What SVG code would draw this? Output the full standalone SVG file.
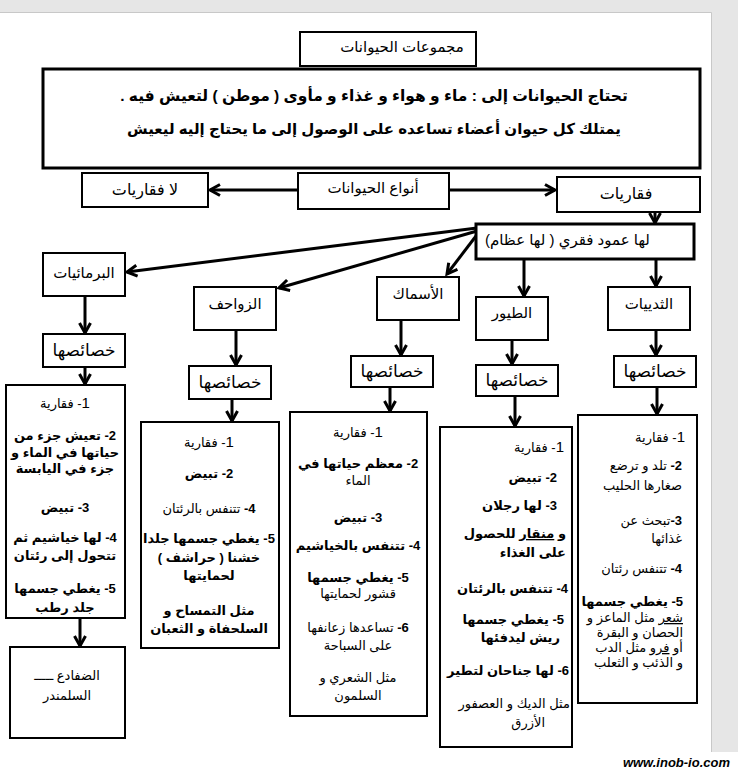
<svg xmlns="http://www.w3.org/2000/svg" width="738" height="770" viewBox="0 0 738 770">
<style>
.bx{fill:#fff;stroke:#000;stroke-width:2}
.bk{stroke-width:3}
.t{font-family:"Liberation Sans","DejaVu Sans",sans-serif;font-size:13px;fill:#000;direction:rtl}
.m{text-anchor:middle}
.r{text-anchor:start}
.l{text-anchor:end}
.b{font-weight:bold}
.n{font-size:15px;font-weight:normal}
.h{font-size:15px}
.g{font-size:16px}
.k{font-size:17px}
.u{text-decoration:underline}
.cn{stroke:#000;stroke-width:3;fill:none}
</style>
<defs>
<marker id="ah" markerUnits="userSpaceOnUse" markerWidth="16" markerHeight="16" refX="12" refY="7" orient="auto" viewBox="0 0 16 16">
<path d="M2,1.5 L12,7 L2,12.5" fill="none" stroke="#000" stroke-width="3"/>
</marker>
</defs>
<rect x="0" y="0" width="738" height="770" fill="#fff"/>
<rect x="0" y="0" width="738" height="12" fill="#e6e6e6"/>
<rect x="711" y="0" width="27" height="752" fill="#e6e6e6"/>
<path d="M0,12.5 H711.5 V752" fill="none" stroke="#c8c8c8" stroke-width="1"/>

<g id="connectors">
<line class="cn" x1="298" y1="190" x2="210" y2="190" marker-end="url(#ah)"/>
<line class="cn" x1="449" y1="190" x2="555" y2="190" marker-end="url(#ah)"/>
<line class="cn" x1="655" y1="212" x2="655" y2="223" marker-end="url(#ah)"/>
<line class="cn" x1="477" y1="228" x2="127" y2="272" marker-end="url(#ah)"/>
<line class="cn" x1="477" y1="231" x2="279" y2="288" marker-end="url(#ah)"/>
<line class="cn" x1="476" y1="236" x2="447" y2="274" marker-end="url(#ah)"/>
<line class="cn" x1="524" y1="259" x2="524" y2="296" marker-end="url(#ah)"/>
<line class="cn" x1="656" y1="259" x2="656" y2="286" marker-end="url(#ah)"/>
<line class="cn" x1="85" y1="296" x2="85" y2="333" marker-end="url(#ah)"/>
<line class="cn" x1="85" y1="367" x2="85" y2="384" marker-end="url(#ah)"/>
<line class="cn" x1="236" y1="330" x2="236" y2="365" marker-end="url(#ah)"/>
<line class="cn" x1="232" y1="399" x2="232" y2="421" marker-end="url(#ah)"/>
<line class="cn" x1="401" y1="320" x2="401" y2="355" marker-end="url(#ah)"/>
<line class="cn" x1="390" y1="387" x2="390" y2="411" marker-end="url(#ah)"/>
<line class="cn" x1="512" y1="340" x2="512" y2="364" marker-end="url(#ah)"/>
<line class="cn" x1="515" y1="396" x2="515" y2="426" marker-end="url(#ah)"/>
<line class="cn" x1="656" y1="330" x2="656" y2="355" marker-end="url(#ah)"/>
<line class="cn" x1="657" y1="387" x2="657" y2="414" marker-end="url(#ah)"/>
<line class="cn" x1="80" y1="618" x2="80" y2="646" marker-end="url(#ah)"/>
</g>

<g id="title">
<rect class="bx" x="300" y="32" width="176" height="34" stroke-width="1.5"/>
<text class="t m h" x="402" y="52">مجموعات الحيوانات</text>
</g>

<g id="intro">
<rect class="bx bk" x="43" y="69" width="657" height="99"/>
<text class="t m b" x="374" y="101" style="font-size:15.5px">تحتاج الحيوانات إلى : ماء و هواء و غذاء و مأوى ( موطن ) لتعيش فيه .</text>
<text class="t m b h" x="374" y="134">يمتلك كل حيوان أعضاء تساعده على الوصول إلى ما يحتاج إليه ليعيش</text>
</g>

<g id="invertebrates">
<rect class="bx" x="82" y="173" width="126" height="34"/>
<text class="t m g" x="145" y="195">لا فقاريات</text>
</g>

<g id="animal-types">
<rect class="bx" x="298" y="173" width="151" height="36"/>
<text class="t m h" x="373" y="193">أنواع الحيوانات</text>
</g>

<g id="vertebrates">
<rect class="bx" x="557" y="177" width="143" height="35"/>
<text class="t m g" x="626" y="199">فقاريات</text>
</g>

<g id="backbone">
<rect class="bx bk" x="476" y="224" width="218" height="35"/>
<text class="t l h" x="485" y="245">لها عمود فقري ( لها عظام)</text>
</g>

<g id="amphibians">
<rect class="bx" x="43" y="253" width="82" height="43"/>
<text class="t m h" x="84" y="278">البرمائيات</text>
</g>
<g id="reptiles">
<rect class="bx" x="194" y="287" width="82" height="43"/>
<text class="t m h" x="235" y="309">الزواحف</text>
</g>
<g id="fish">
<rect class="bx" x="377" y="277" width="82" height="43"/>
<text class="t m h" x="418" y="299">الأسماك</text>
</g>
<g id="birds">
<rect class="bx" x="476" y="297" width="72" height="43"/>
<text class="t m h" x="512" y="318">الطيور</text>
</g>
<g id="mammals">
<rect class="bx" x="608" y="287" width="82" height="43"/>
<text class="t m h" x="649" y="309">الثدييات</text>
</g>

<g id="amphibians-props">
<rect class="bx" x="43" y="334" width="82" height="33"/>
<text class="t m k" x="84" y="356">خصائصها</text>
</g>
<g id="reptiles-props">
<rect class="bx" x="189" y="366" width="82" height="33"/>
<text class="t m k" x="230" y="388">خصائصها</text>
</g>
<g id="fish-props">
<rect class="bx" x="351" y="356" width="82" height="31"/>
<text class="t m k" x="392" y="377">خصائصها</text>
</g>
<g id="birds-props">
<rect class="bx" x="476" y="365" width="82" height="31"/>
<text class="t m k" x="517" y="386">خصائصها</text>
</g>
<g id="mammals-props">
<rect class="bx" x="614" y="356" width="82" height="31"/>
<text class="t m k" x="655" y="377">خصائصها</text>
</g>

<g id="amphibians-list">
<rect class="bx" x="6" y="385" width="119" height="233"/>
<text class="t m" x="65" y="408"><tspan class="n">1</tspan>- فقارية</text>
<text class="t m b" x="65" y="440">2- تعيش جزء من</text>
<text class="t m b" x="65" y="457">حياتها في الماء و</text>
<text class="t m b" x="65" y="473">جزء في اليابسة</text>
<text class="t m b" x="65" y="512">3- تبيض</text>
<text class="t m b" x="65" y="542">4-  لها خياشيم ثم</text>
<text class="t m b" x="65" y="560">تتحول إلى رئتان</text>
<text class="t m b" x="65" y="593">5- يغطي جسمها</text>
<text class="t m b" x="65" y="612">جلد رطب</text>
</g>

<g id="amphibians-examples">
<rect class="bx" x="10" y="647" width="115" height="91"/>
<text class="t m" x="67" y="680">الضفادع ـــــ</text>
<text class="t m" x="67" y="700">السلمندر</text>
</g>

<g id="reptiles-list">
<rect class="bx" x="141" y="422" width="138" height="226"/>
<text class="t m" x="209" y="447"><tspan class="n">1</tspan>- فقارية</text>
<text class="t m b" x="209" y="478">2- تبيض</text>
<text class="t m" x="209" y="513"><tspan class="b">4-</tspan>  تتنفس بالرئتان</text>
<text class="t m b" x="209" y="543">5- يغطي جسمها جلدا</text>
<text class="t m b" x="209" y="562">خشنا ( حراشف )</text>
<text class="t m b" x="209" y="580">لحمايتها</text>
<text class="t m b" x="209" y="615">مثل التمساح و</text>
<text class="t m b" x="209" y="633">السلحفاة و الثعبان</text>
</g>

<g id="fish-list">
<rect class="bx" x="290" y="412" width="137" height="304"/>
<text class="t m" x="358" y="437"><tspan class="n">1</tspan>- فقارية</text>
<text class="t m b" x="358" y="468">2- معظم حياتها في</text>
<text class="t m" x="358" y="485">الماء</text>
<text class="t m b" x="358" y="522">3- تبيض</text>
<text class="t m b" x="358" y="550">4- تتنفس بالخياشيم</text>
<text class="t m b" x="358" y="582">5- يغطي جسمها</text>
<text class="t m" x="358" y="598">قشور لحمايتها</text>
<text class="t m" x="358" y="632"><tspan class="b">6-</tspan> تساعدها زعانفها</text>
<text class="t m" x="358" y="650">على السباحة</text>
<text class="t m" x="358" y="682">مثل الشعري و</text>
<text class="t m" x="358" y="700">السلمون</text>
</g>

<g id="birds-list">
<rect class="bx" x="440" y="427" width="132" height="320"/>
<text class="t r" x="564" y="452"><tspan class="n">1</tspan>- فقارية</text>
<text class="t r b" x="557" y="482">2- تبيض</text>
<text class="t r b" x="557" y="510">3- لها رجلان</text>
<text class="t r b" x="566" y="538">و <tspan class="u">منقار</tspan> للحصول</text>
<text class="t r b" x="566" y="557">على الغذاء</text>
<text class="t r b" x="568" y="593">4-  تتنفس بالرئتان</text>
<text class="t r b" x="564" y="624">5- يغطي جسمها</text>
<text class="t r b" x="560" y="642">ريش ليدفئها</text>
<text class="t r b" x="569" y="675">6- لها جناحان لتطير</text>
<text class="t r" x="570" y="708">مثل الديك و العصفور</text>
<text class="t r" x="545" y="727">الأزرق</text>
</g>

<g id="mammals-list">
<rect class="bx" x="578" y="415" width="119" height="288"/>
<text class="t r" x="685" y="442"><tspan class="n">1</tspan>- فقارية</text>
<text class="t r" x="682" y="470"><tspan class="b">2-</tspan> تلد و ترضع</text>
<text class="t r" x="682" y="490">صغارها الحليب</text>
<text class="t r" x="682" y="525"><tspan class="b">3-</tspan>تبحث عن</text>
<text class="t r" x="682" y="543">غذائها</text>
<text class="t r" x="682" y="573"><tspan class="b">4-</tspan>  تتنفس رئتان</text>
<text class="t r b" x="683" y="606">5- يغطي جسمها</text>
<text class="t r" x="683" y="622"><tspan class="u">شعر</tspan> مثل الماعز و</text>
<text class="t r" x="683" y="637">الحصان و البقرة</text>
<text class="t r" x="683" y="652">أو <tspan class="u">فرو</tspan> مثل الدب</text>
<text class="t r" x="683" y="667">و الذئب و الثعلب</text>
</g>

<text x="730" y="767" text-anchor="end" font-family="Liberation Sans, sans-serif" font-size="13" font-weight="bold" font-style="italic" fill="#000">www.inob-io.com</text>
</svg>
